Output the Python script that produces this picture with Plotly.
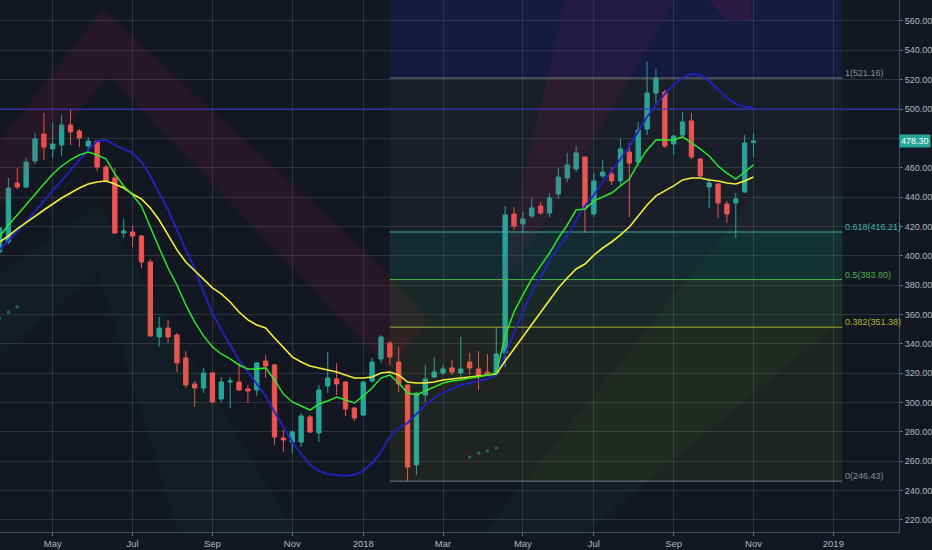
import pandas as pd
import plotly.graph_objects as go

# ---------------- data ----------------
dates = pd.date_range('2017-03-20', periods=86, freq='7D')

opens = [402.6, 409.4, 449.6, 446.9, 464.6, 483.0, 472.8, 475.5, 489.1, 485.0,
         474.8, 478.2, 460.5, 453.0, 415.5, 416.2, 413.5, 395.8, 344.7, 350.8,
         346.0, 330.4, 312.7, 309.9, 320.2, 302.4, 314.0, 314.0, 309.3, 308.6,
         328.3, 325.6, 275.9, 273.1, 273.1, 290.2, 279.3, 311.3, 316.1, 314.0,
         296.3, 291.5, 314.7, 329.7, 340.6, 327.6, 312.0, 257.5, 305.2, 317.4,
         320.2, 323.6, 320.2, 327.6, 322.9, 320.8, 320.2, 333.8, 428.5, 421.7,
         427.1, 433.9, 429.2, 442.1, 453.0, 459.2, 467.3, 428.5, 454.4, 455.8,
         451.0, 470.7, 463.9, 486.4, 510.9, 511.6, 476.2, 482.3, 491.9, 466.0,
         446.9, 448.9, 435.3, 436.0, 443.5, 477.3]
highs = [420.3, 453.0, 459.8, 466.7, 483.7, 497.3, 490.5, 495.9, 499.4, 486.4,
         481.0, 478.9, 461.9, 459.8, 425.1, 420.3, 414.2, 397.8, 358.3, 356.3,
         347.4, 335.1, 314.7, 323.6, 320.8, 317.4, 317.4, 327.0, 312.0, 327.6,
         332.4, 326.3, 281.3, 281.3, 292.9, 291.5, 312.0, 334.5, 327.0, 314.7,
         297.0, 314.7, 330.4, 346.0, 342.0, 337.9, 312.0, 307.2, 325.6, 331.1,
         325.6, 329.0, 344.7, 333.8, 335.1, 333.1, 351.5, 433.9, 433.3, 429.9,
         439.4, 436.7, 442.8, 459.8, 470.1, 474.8, 468.0, 456.4, 465.3, 460.5,
         479.6, 476.9, 491.2, 532.1, 527.3, 513.0, 482.3, 498.0, 497.3, 466.7,
         453.0, 449.6, 437.4, 442.8, 482.3, 483.7]
lows = [395.1, 408.0, 445.5, 446.2, 462.6, 465.3, 466.7, 468.0, 475.5, 474.1,
        472.1, 457.8, 450.3, 414.9, 412.1, 406.0, 391.7, 344.7, 337.9, 340.6,
        320.8, 309.9, 297.0, 306.5, 299.7, 300.4, 296.3, 307.9, 299.7, 304.5,
        316.7, 271.1, 266.3, 265.6, 269.7, 279.3, 273.1, 306.5, 305.2, 290.9,
        287.4, 290.9, 313.3, 327.0, 325.6, 307.2, 246.43, 250.7, 300.4, 316.7,
        318.8, 318.8, 317.4, 318.8, 308.6, 318.1, 318.8, 324.2, 417.6, 415.5,
        425.8, 427.8, 426.4, 438.7, 450.3, 457.1, 415.5, 426.4, 453.0, 448.3,
        447.6, 426.4, 461.2, 482.3, 504.1, 473.5, 468.7, 480.3, 466.0, 453.7,
        432.6, 425.8, 422.4, 412.1, 442.8, 467.3]
closes = [419.0, 446.2, 446.9, 463.9, 479.6, 474.1, 476.2, 489.1, 484.4, 480.3,
          478.2, 460.5, 451.0, 415.5, 416.9, 413.5, 395.8, 345.4, 350.8, 344.7,
          327.0, 312.0, 309.9, 320.2, 300.4, 314.0, 314.7, 308.6, 307.9, 327.0,
          324.9, 276.5, 274.5, 279.9, 290.9, 279.9, 308.6, 316.7, 312.7, 295.6,
          289.5, 314.0, 327.6, 344.7, 331.1, 312.7, 256.1, 306.5, 316.1, 320.8,
          322.9, 320.8, 322.9, 323.6, 318.1, 318.8, 333.1, 427.8, 420.3, 425.1,
          432.6, 429.2, 439.4, 453.7, 461.9, 470.1, 432.6, 451.0, 457.1, 451.0,
          472.8, 463.2, 485.7, 510.9, 521.2, 474.8, 481.6, 491.2, 467.3, 454.4,
          449.6, 436.0, 428.5, 438.7, 476.9, 478.3]

ma_green = [413.0, 421.0, 427.8, 434.6, 441.4, 448.9, 455.8, 461.2, 465.3, 468.7,
            470.7, 468.7, 466.0, 455.8, 447.6, 441.4, 433.9, 419.0, 405.3, 391.7,
            380.1, 366.5, 354.9, 345.4, 337.9, 333.1, 329.7, 325.6, 322.9, 322.9,
            323.6, 315.4, 305.8, 300.4, 297.7, 294.9, 299.0, 301.1, 303.8, 301.7,
            299.7, 304.5, 309.9, 316.7, 318.8, 313.3, 306.5, 305.2, 307.9, 310.6,
            313.3, 314.7, 315.4, 316.7, 317.4, 318.8, 320.2, 345.4, 361.7, 373.3,
            384.2, 393.1, 401.9, 412.1, 421.0, 431.2, 431.9, 437.4, 440.1, 442.8,
            447.6, 452.3, 463.2, 472.1, 478.9, 478.9, 478.9, 481.0, 476.9, 472.8,
            468.0, 461.2, 456.4, 452.3, 457.1, 461.9]
ma_yellow = [409.4, 413.5, 418.3, 422.4, 427.1, 431.2, 435.3, 439.4, 442.8, 446.2,
             448.9, 450.3, 451.0, 448.9, 446.2, 442.1, 438.7, 432.6, 424.4, 414.2,
             404.0, 395.8, 389.7, 383.5, 378.1, 374.0, 368.5, 361.7, 356.3, 352.9,
             350.8, 344.0, 337.9, 331.1, 327.6, 324.9, 323.6, 322.2, 320.8, 318.8,
             316.7, 316.7, 317.4, 320.2, 320.8, 318.8, 314.0, 313.3, 313.3, 314.0,
             315.4, 316.1, 316.7, 317.4, 318.1, 318.8, 319.5, 328.3, 336.5, 344.7,
             352.9, 361.0, 369.2, 378.1, 384.9, 391.0, 394.4, 400.5, 405.3, 409.4,
             414.2, 419.6, 427.1, 434.6, 440.8, 444.2, 447.6, 451.7, 453.0, 453.0,
             451.7, 451.0, 449.6, 448.9, 451.0, 453.7]
ma_blue = [404.0, 410.1, 416.2, 423.0, 430.5, 437.4, 444.2, 451.0, 458.5, 465.3,
           472.1, 478.2, 478.9, 475.5, 472.8, 470.1, 463.9, 454.4, 442.8, 431.2,
           417.6, 404.0, 391.7, 375.3, 361.0, 349.5, 339.2, 329.0, 320.8, 312.7,
           304.5, 293.6, 283.3, 273.1, 265.0, 257.5, 253.4, 251.3, 250.7, 250.0,
           250.7, 253.4, 258.8, 266.3, 276.5, 282.7, 286.1, 292.2, 298.3, 303.1,
           306.5, 309.3, 312.0, 313.3, 314.7, 316.1, 318.8, 333.1, 348.1, 361.7,
           375.3, 385.6, 397.1, 406.0, 413.5, 424.4, 433.9, 441.4, 450.3, 457.8,
           466.0, 474.8, 485.0, 494.6, 502.8, 510.3, 516.4, 521.2, 523.9, 523.2,
           519.1, 513.0, 507.5, 503.4, 501.4, 500.7]

dot_idx = [0, 1, 2, 53, 54, 55, 56]
dot_vals = [357.6, 361.7, 365.1, 262.9, 265.6, 267.0, 269.0]

fib_ratios = [0, 0.382, 0.5, 0.618, 1, 1.618]
fib_prices = [246.43, 351.38, 383.80, 416.21, 521.16, 690.96]
fib_line_colors = ['#787b86', '#a9ab36', '#4caf50', '#3fb0a3', '#787b86', '#2a3ad0']
fib_label_colors = ['#8a8d96', '#b3b53c', '#4caf50', '#3fb5a8', '#8a8d96', '#2a3ad0']
fib_fill_colors = [None, 'rgba(160,170,40,0.09)', 'rgba(76,175,80,0.12)',
                   'rgba(20,160,140,0.15)', 'rgba(120,123,134,0.07)', 'rgba(35,45,210,0.17)']
fib_start, fib_end = '2018-01-22', '2019-01-14'

hline_price = 500
last_price = 478.30

# background indicator bands (polygons in date / price)
band_red_left_x = ['2017-03-15', '2017-06-09', '2018-01-21', '2018-02-21', '2018-01-21', '2017-06-14', '2017-03-15']
band_red_left_y = [472, 568, 388, 356, 323, 523, 428]
band_green_left_x = ['2017-03-15', '2017-06-06', '2017-11-12', '2017-08-10', '2017-06-06', '2017-03-15']
band_green_left_y = [384, 435, 206, 206, 388, 329]
band_red_right_x = ['2018-06-10', '2018-09-05', '2018-05-18', '2018-04-17']
band_red_right_y = [576, 576, 414, 377]
band_red_top_x = ['2018-09-29', '2018-11-03', '2018-11-03', '2018-10-15']
band_red_top_y = [576, 576, 560.7, 560.7]
band_green_right_x = ['2018-04-01', '2018-11-07', '2019-01-14', '2019-01-14', '2018-06-18']
band_green_right_y = [206, 442, 442, 356, 206]

x_tick_vals = ['2017-05-01', '2017-07-03', '2017-09-04', '2017-11-06', '2018-01-01',
               '2018-03-05', '2018-05-07', '2018-07-02', '2018-09-03', '2018-11-05', '2019-01-07']
x_tick_text = ['May', 'Jul', 'Sep', 'Nov', '2018', 'Mar', 'May', 'Jul', 'Sep', 'Nov', '2019']
y_tick_vals = list(range(220, 561, 20))
# the 480 label is hidden behind the last-price marker in the reference
y_tick_text = ['' if v == 480 else f'{v:.2f}' for v in y_tick_vals]

x_range = ['2017-03-20 09:00', '2019-02-27 19:00']
y_range = [211.8, 574.3]

# ---------------- figure ----------------
BG = '#131722'
GRID = 'rgba(120,126,140,0.26)'
FONT = 'Liberation Sans Narrow, Liberation Sans, Arial, sans-serif'

fig = go.Figure()

def poly(xs, ys, color):
    fig.add_trace(go.Scatter(x=xs, y=ys, mode='lines', fill='toself', fillcolor=color,
                             line=dict(width=0), hoverinfo='skip', showlegend=False))

poly(band_red_left_x, band_red_left_y, 'rgba(190,30,50,0.11)')
poly(band_green_left_x, band_green_left_y, 'rgba(40,160,60,0.06)')
poly(band_red_right_x, band_red_right_y, 'rgba(190,30,70,0.11)')
poly(band_red_top_x, band_red_top_y, 'rgba(190,30,70,0.15)')
poly(band_green_right_x, band_green_right_y, 'rgba(60,170,50,0.06)')

# fib fills
for i in range(1, len(fib_prices)):
    lo, hi = fib_prices[i - 1], fib_prices[i]
    poly([fib_start, fib_end, fib_end, fib_start], [lo, lo, hi, hi], fib_fill_colors[i])

# fib lines
for i in range(len(fib_prices) - 1):
    fig.add_trace(go.Scatter(x=[fib_start, fib_end], y=[fib_prices[i]] * 2, mode='lines',
                             line=dict(color=fib_line_colors[i], width=1),
                             hoverinfo='skip', showlegend=False))

# horizontal line
fig.add_trace(go.Scatter(x=x_range, y=[hline_price] * 2, mode='lines',
                         line=dict(color='#3434d0', width=1), hoverinfo='skip', showlegend=False))

# dots
fig.add_trace(go.Scatter(x=[dates[i] for i in dot_idx], y=dot_vals, mode='markers',
                         marker=dict(size=3.5, color='rgba(38,166,154,0.5)'),
                         hoverinfo='skip', showlegend=False))

# candles
fig.add_trace(go.Candlestick(
    x=dates, open=opens, high=highs, low=lows, close=closes,
    increasing=dict(line=dict(color='#26a69a', width=1), fillcolor='#26a69a'),
    decreasing=dict(line=dict(color='#ef5350', width=1), fillcolor='#ef5350'),
    showlegend=False))

# moving averages
fig.add_trace(go.Scatter(x=dates, y=ma_blue, mode='lines',
                         line=dict(color='#2222c4', width=1.8), showlegend=False))
fig.add_trace(go.Scatter(x=dates, y=ma_yellow, mode='lines',
                         line=dict(color='#f2ef3a', width=1.6), showlegend=False))
fig.add_trace(go.Scatter(x=dates, y=ma_green, mode='lines',
                         line=dict(color='#2ee62e', width=1.5), showlegend=False))

annotations = []
for i in range(len(fib_prices) - 1):
    annotations.append(dict(x=fib_end, y=fib_prices[i], xref='x', yref='y',
                            text=f'{fib_ratios[i]:g}({fib_prices[i]:.2f})',
                            showarrow=False, xanchor='left', yanchor='middle', yshift=5, xshift=1,
                            font=dict(family=FONT, size=9, color=fib_label_colors[i])))
annotations.append(dict(x=1, y=last_price, xref='paper', yref='y', text=f'{last_price:.2f}',
                        showarrow=False, xanchor='left', yanchor='middle', xshift=0,
                        bgcolor='#26a69a', borderpad=1,
                        font=dict(family=FONT, size=9, color='#ffffff')))

fig.update_layout(
    width=932, height=550,
    margin=dict(l=0, r=28, t=0, b=18),
    paper_bgcolor=BG, plot_bgcolor=BG,
    showlegend=False,
    annotations=annotations,
    xaxis=dict(type='date', range=x_range, rangeslider=dict(visible=False),
               tickvals=x_tick_vals, ticktext=x_tick_text,
               showgrid=True, gridcolor=GRID, gridwidth=1, zeroline=False,
               showline=True, linecolor='#4a4e5a', linewidth=1,
               ticks='outside', ticklen=3, tickcolor='#6a6e78',
               tickfont=dict(family=FONT, size=9.5, color='#b2b5be')),
    yaxis=dict(range=y_range, side='right', tickvals=y_tick_vals,
               ticktext=y_tick_text,
               showgrid=True, gridcolor=GRID, gridwidth=1, zeroline=False,
               showline=True, linecolor='#4a4e5a', linewidth=1,
               ticks='outside', ticklen=3, tickcolor='#6a6e78',
               tickfont=dict(family=FONT, size=9, color='#b2b5be')),
)

fig.write_html('out.html', config={'displayModeBar': False},
               post_script="document.body.style.margin='0';document.body.style.background='#131722';")
